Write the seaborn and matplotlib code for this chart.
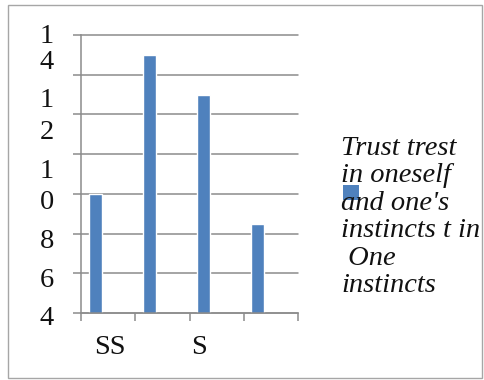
import matplotlib
matplotlib.use("Agg")
import matplotlib.pyplot as plt
from matplotlib.patches import Rectangle
import seaborn as sns
import pandas as pd

# Chart data
categories = ["c1", "c2", "c3", "c4"]
values = [10, 17, 15, 8.5]
series_name = "Trust trest\nin oneself\nand one's\ninstincts t in\n One\ninstincts"

# Axis labels as they appear on the chart
y_label_chars = ["1", "4", "1", "2", "1", "0", "8", "6", "4"]
y_label_pos = [17.94, 16.59, 14.72, 13.07, 11.14, 9.54, 7.58, 5.65, 3.72]
x_label_text = ["SS", "S"]
x_label_pos = [0.035, 1.675]

y_ticks = [4, 6, 8, 10, 12, 14, 16, 18]

BLUE = "#4F81BD"
GRID = "#8C8C8C"
FS = 20.5

df = pd.DataFrame({"category": categories, "value": values, "series": series_name})

sns.set_style("white")
plt.rcParams["font.family"] = ["Liberation Serif", "DejaVu Serif"]

fig = plt.figure(figsize=(4.84, 3.80), dpi=100)
ax = fig.add_axes([81 / 484, 1 - 313 / 380, 217 / 484, 278 / 380])

hue_levels = [series_name, "_s2", "_s3"]
sns.barplot(data=df, x="category", y="value", hue="series", hue_order=hue_levels,
            palette=[BLUE, BLUE, BLUE], order=categories, width=0.72, gap=0,
            dodge=True, legend=False, saturation=1, ax=ax)

ax.set_xlim(-0.5, 3.5)
ax.set_ylim(4, 18)
ax.set_yticks(y_ticks)
ax.set_yticklabels([""] * len(y_ticks))
ax.set_xticks([-0.5, 0.5, 1.5, 2.5, 3.5])
ax.set_xticklabels([""] * 5)
ax.set_xlabel("")
ax.set_ylabel("")
ax.tick_params(axis="both", which="major", length=5.8, width=1.1, color=GRID,
               direction="out", left=True, bottom=True)
ax.yaxis.grid(True, color=GRID, linewidth=1.1)
ax.set_axisbelow(True)
for ln in ax.get_ygridlines():
    ln.set_clip_on(False)
for side in ("top", "right"):
    ax.spines[side].set_visible(False)
for side in ("left", "bottom"):
    ax.spines[side].set_color(GRID)
    ax.spines[side].set_linewidth(1.1)

# Y axis characters
ytrans = ax.get_yaxis_transform()
for ch, yv in zip(y_label_chars, y_label_pos):
    ax.text(-0.157, yv, ch, transform=ytrans, ha="center", va="center",
            fontsize=FS, color="#111111", clip_on=False)

# X axis labels
xtrans = ax.get_xaxis_transform()
for txt, xv in zip(x_label_text, x_label_pos):
    ax.text(xv, -0.125, txt, transform=xtrans, ha="center", va="center",
            fontsize=FS, color="#111111", clip_on=False)

# Legend
fig.text(341 / 484, 1 - 136 / 380, series_name, ha="left", va="top",
         fontsize=FS, style="italic", color="#111111", linespacing=1.13)
fig.patches.append(Rectangle((343 / 484, 1 - 200 / 380), 16 / 484, 15 / 380,
                             transform=fig.transFigure, facecolor=BLUE,
                             edgecolor="none"))

# Outer frame
fig.patches.append(Rectangle((8 / 484, 2 / 380), 474 / 484, 373 / 380,
                             transform=fig.transFigure, fill=False,
                             edgecolor="#A6A6A6", linewidth=1.0))

fig.savefig("out.png", dpi=100)
